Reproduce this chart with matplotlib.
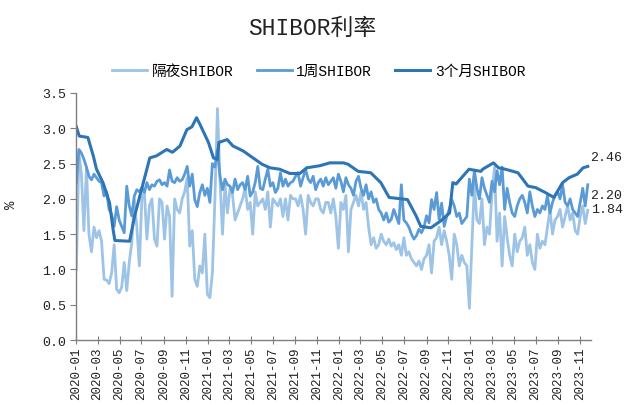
import pandas as pd
import matplotlib
matplotlib.use('Agg')
import matplotlib.pyplot as plt
import matplotlib.dates as mdates
from matplotlib.ticker import MultipleLocator, FormatStrFormatter

plt.rcParams['font.family'] = ['Liberation Mono', 'Noto Sans CJK SC', 'DejaVu Sans']

# weekly observations (Thursdays) 2020-01-02 .. 2023-11-23
week_dates = pd.date_range('2020-01-02', periods=204, freq='7D')

# overnight SHIBOR (one row per month)
overnight = [
    # 2020
    1.00, 2.65, 2.35, 1.55, 2.45,
    1.50, 1.25, 1.60, 1.45,
    1.55, 1.40, 0.86, 0.85,
    0.80, 0.95, 1.35, 0.72, 0.67,
    0.75, 1.10, 0.70, 1.10,
    1.38, 1.99, 1.60, 1.05,
    2.00, 2.09, 1.43, 1.90, 2.00,
    1.43, 1.33, 2.00, 1.95,
    1.43, 1.90, 1.75, 0.62,
    2.00, 1.85, 1.80, 2.00, 2.10,
    2.30, 1.33, 1.55, 0.86,
    0.76, 1.05, 0.95, 1.50, 0.65,
    # 2021
    0.60, 0.95, 2.00, 3.28,
    2.30, 1.50, 2.20, 1.80,
    2.15, 2.05, 1.70, 1.80,
    1.90, 2.00, 2.15, 1.85, 1.95,
    1.50, 2.10, 1.90, 1.95,
    2.00, 1.85, 2.10, 1.60,
    2.00, 1.95, 1.90, 2.00, 1.75,
    2.00, 1.70, 2.05, 2.00,
    2.00, 1.90, 2.05, 1.85, 1.50,
    2.05, 1.95, 1.90, 2.00,
    2.00, 1.85, 1.80, 1.95,
    1.95, 1.80, 2.00, 1.75, 1.30,
    # 2022
    1.95, 1.85, 2.05, 1.25,
    1.85, 1.95, 2.05, 1.90,
    2.10, 1.85, 1.95, 1.60, 1.35,
    1.45, 1.30, 1.35, 1.50,
    1.40, 1.35, 1.43, 1.33,
    1.38, 1.28, 1.35, 1.20, 1.45,
    1.20, 1.25, 1.15, 1.10,
    1.05, 1.12, 1.00, 1.15,
    1.20, 1.35, 0.95, 1.40, 1.45,
    1.60, 1.35, 1.55, 1.40,
    1.20, 0.86, 1.50, 1.35,
    1.05, 1.20, 1.10, 1.05, 0.45,
    # 2023
    1.35, 2.20, 1.70, 1.65,
    2.00, 1.35, 1.60, 1.50,
    2.10, 2.45, 1.40, 1.80, 1.05,
    1.75, 1.45, 1.20, 1.05,
    1.50, 1.25, 1.40, 1.45,
    1.60, 1.20, 1.35, 1.10, 1.00,
    1.50, 1.30, 1.40, 1.35,
    1.60, 1.85, 1.50, 1.70, 1.75,
    1.85, 1.60, 1.75, 1.90,
    1.70, 1.80, 1.55, 1.50,
    1.75, 1.90, 1.65, 1.84,
]

# 1-week SHIBOR
week1 = [
    # 2020
    2.23, 2.70, 2.65, 2.56, 2.45,
    2.32, 2.27, 2.35, 2.30,
    2.25, 2.23, 2.04, 2.10,
    1.85, 1.78, 1.61, 1.89, 1.70,
    1.61, 1.52, 2.18, 1.90,
    1.76, 2.04, 2.13, 2.10,
    2.16, 2.09, 2.23, 2.13, 2.20,
    2.18, 2.25, 2.27, 2.20,
    2.23, 2.18, 2.41, 2.25,
    2.23, 2.30, 2.25, 2.27, 2.35,
    2.46, 2.18, 2.35, 1.99,
    1.89, 2.09, 2.20, 2.05, 2.15,
    # 2021
    1.95, 2.50, 2.45, 2.70,
    2.32, 2.13, 2.28, 2.20,
    2.18, 2.09, 2.28, 2.13,
    2.20, 2.23, 2.13, 2.32, 2.04,
    2.10, 2.23, 2.46, 2.15,
    2.13, 2.28, 2.42, 2.18,
    2.23, 2.09, 2.15, 2.37, 2.18,
    2.28, 2.18, 2.23, 2.25,
    2.32, 2.37, 2.18, 2.30, 2.42,
    2.28, 2.23, 2.32, 2.13,
    2.23, 2.28, 2.18, 2.30,
    2.20, 2.25, 2.30, 2.15, 2.35,
    # 2022
    2.25, 2.10, 2.30, 2.20,
    2.15, 2.05, 2.25, 2.32,
    2.15, 2.05, 2.20, 2.00, 2.10,
    1.95, 2.00, 1.85, 1.80,
    1.70, 1.80, 1.67, 1.71,
    1.85, 1.75, 1.65, 2.20, 1.70,
    1.66, 1.60, 1.50, 1.43,
    1.48, 1.57, 1.52, 1.60,
    1.76, 1.66, 1.99, 1.85, 2.09,
    1.71, 1.94, 1.61, 1.75,
    1.85, 1.99, 1.90, 1.75,
    1.80, 1.65, 1.70, 1.75, 2.28,
    # 2023
    2.05, 2.40, 2.15, 2.00,
    2.30, 2.15, 2.05, 1.95,
    2.25, 2.10, 2.40, 2.20, 2.45,
    1.85, 2.15, 1.95, 1.80,
    1.75, 1.90, 2.00, 2.05,
    1.95, 1.80, 2.10, 1.90, 1.75,
    1.85, 1.80, 1.90, 1.85,
    2.05, 1.80, 1.95, 2.05, 2.10,
    2.00, 2.20, 1.95, 1.90,
    2.00, 1.85, 1.80, 1.75,
    1.95, 2.15, 1.90, 2.20,
]

# 3-month SHIBOR (smooth, so turning points only)
m3_dates = pd.to_datetime([
    '2020-01-02', '2020-01-10', '2020-02-03', '2020-02-18', '2020-02-27',
    '2020-03-16', '2020-04-03', '2020-04-13', '2020-04-18', '2020-05-29',
    '2020-06-12', '2020-07-01', '2020-07-24', '2020-08-12', '2020-09-09',
    '2020-09-25', '2020-10-16', '2020-11-04', '2020-11-18', '2020-12-01',
    '2020-12-10', '2021-01-03', '2021-01-17', '2021-01-28', '2021-02-01',
    '2021-02-24', '2021-03-12', '2021-04-09', '2021-05-07', '2021-06-01',
    '2021-06-23', '2021-07-20', '2021-08-17', '2021-09-14', '2021-10-03',
    '2021-11-09', '2021-12-06', '2022-01-13', '2022-01-26', '2022-02-23',
    '2022-03-30', '2022-04-27', '2022-05-20', '2022-07-10', '2022-08-03',
    '2022-08-16', '2022-09-13', '2022-10-11', '2022-11-04', '2022-11-13',
    '2022-11-22', '2022-12-28', '2023-01-30', '2023-02-04', '2023-03-06',
    '2023-03-20', '2023-04-08', '2023-05-13', '2023-06-10', '2023-07-01',
    '2023-07-28', '2023-08-21', '2023-09-14', '2023-10-02', '2023-10-25',
    '2023-11-10', '2023-11-23',
])
month3 = [
    3.02, 2.89, 2.87, 2.61, 2.42,
    2.23, 1.95, 1.57, 1.41, 1.40,
    1.76, 2.13, 2.58, 2.61, 2.70,
    2.66, 2.75, 2.98, 3.02, 3.15,
    3.06, 2.80, 2.58, 2.56, 2.80,
    2.84, 2.75, 2.68, 2.58, 2.49,
    2.44, 2.42, 2.36, 2.36, 2.44,
    2.47, 2.51, 2.51, 2.49, 2.39,
    2.37, 2.23, 2.02, 1.99, 1.76,
    1.61, 1.59, 1.69, 1.80, 2.23,
    2.21, 2.42, 2.39, 2.42, 2.51,
    2.44, 2.42, 2.37, 2.18, 2.16,
    2.09, 2.02, 2.23, 2.30, 2.35,
    2.44, 2.46,
]

series_names = ['隔夜SHIBOR', '1周SHIBOR', '3个月SHIBOR']
colors = ['#9DC3E6', '#5B9BD5', '#2E75B6']

fig = plt.figure(figsize=(6.25, 4.06), dpi=100)
ax = fig.add_axes([0.1216, 0.160, 0.824, 0.6085])

ax.plot(week_dates, overnight, color=colors[0], lw=2.0, label=series_names[0])
ax.plot(week_dates, week1, color=colors[1], lw=2.0, label=series_names[1])
ax.plot(m3_dates, month3, color=colors[2], lw=2.2, label=series_names[2])

# end-of-series value labels
ends = [(week_dates[-1], overnight[-1], 0.5),
        (week_dates[-1], week1[-1], -7.5),
        (m3_dates[-1], month3[-1], 6.5)]
for d, v, dy in ends:
    ax.annotate(f'{v:.2f}', xy=(d, v), xytext=(2, dy), textcoords='offset points',
                ha='left', va='center', fontsize=9.5, color='#222222',
                annotation_clip=False)

ax.set_ylim(0, 3.5)
ax.yaxis.set_major_locator(MultipleLocator(0.5))
ax.yaxis.set_major_formatter(FormatStrFormatter('%.1f'))
ax.set_xlim(pd.Timestamp('2020-01-01'), pd.Timestamp('2023-12-02'))
ax.xaxis.set_major_locator(mdates.MonthLocator(bymonth=[1, 3, 5, 7, 9, 11]))
ax.xaxis.set_major_formatter(mdates.DateFormatter('%Y-%m'))
plt.setp(ax.get_xticklabels(), rotation=90, ha='center', va='top')

for side in ['top', 'right']:
    ax.spines[side].set_visible(False)
for side in ['left', 'bottom']:
    ax.spines[side].set_color('#7f7f7f')
    ax.spines[side].set_linewidth(1.0)
ax.tick_params(axis='y', direction='out', length=4, color='#7f7f7f',
               labelsize=9.5, labelcolor='#222222', pad=3)
ax.tick_params(axis='x', direction='inout', length=6, color='#7f7f7f',
               labelsize=9, labelcolor='#222222', pad=2)

ax.set_ylabel('%', fontsize=10, color='#222222')
ax.yaxis.set_label_coords(-0.112, 0.55)

fig.text(0.5, 0.93, 'SHIBOR利率', ha='center', va='center', fontsize=16.5, color='#222222')
fig.legend(loc='center', bbox_to_anchor=(0.51, 0.823), ncol=3, frameon=False,
           fontsize=10.5, handlelength=2.4, handletextpad=0.3, columnspacing=1.6)

fig.savefig('out.png', dpi=100)
